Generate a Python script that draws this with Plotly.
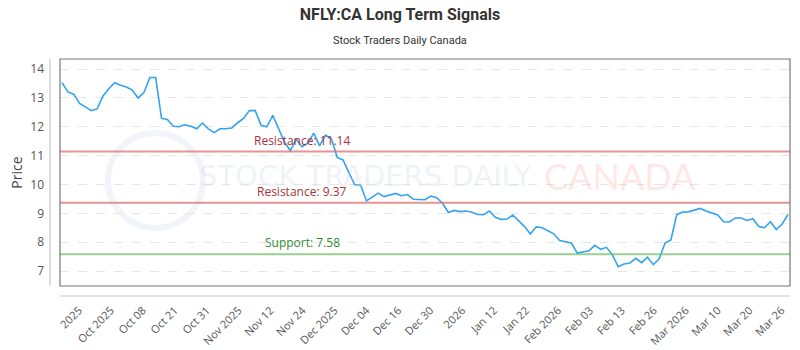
import plotly.graph_objects as go
import numpy as np

# ---- data ----
prices = [
    13.53, 13.21, 13.13, 12.81, 12.69, 12.56, 12.62, 13.07, 13.32, 13.53,
    13.44, 13.38, 13.27, 13.00, 13.19, 13.71, 13.71, 12.29, 12.25, 12.02,
    12.00, 12.07, 12.02, 11.93, 12.13, 11.93,
    11.80, 11.93, 11.93, 11.96, 12.14, 12.29, 12.56, 12.56, 12.05, 12.00,
    12.40, 11.91, 11.47, 11.17, 11.57, 11.31, 11.43, 11.78, 11.34, 11.71,
    11.59, 10.94, 10.85, 10.41, 9.99,
    9.98, 9.43, 9.56, 9.70, 9.58, 9.63, 9.69, 9.61, 9.65, 9.49,
    9.47, 9.47, 9.60, 9.54, 9.35, 9.03, 9.10, 9.06, 9.08, 9.04,
    8.96, 8.95, 9.08, 8.86, 8.79,
    8.80, 8.94, 8.75, 8.54, 8.28, 8.53, 8.50, 8.39, 8.29, 8.06,
    8.01, 7.97, 7.62, 7.66, 7.70, 7.89, 7.75, 7.82, 7.56, 7.15,
    7.24, 7.28, 7.44, 7.29, 7.48,
    7.22, 7.42, 7.97, 8.08, 8.96, 9.04, 9.05, 9.10, 9.17, 9.08,
    9.01, 8.94, 8.71, 8.70, 8.84, 8.84, 8.75, 8.81, 8.54, 8.50,
    8.71, 8.44, 8.63, 8.96,
]
tick_labels = [
    "2025", "Oct 2025", "Oct 08", "Oct 21", "Oct 31", "Nov 2025", "Nov 12",
    "Nov 24", "Dec 2025", "Dec 04", "Dec 16", "Dec 30", "2026", "Jan 12",
    "Jan 22", "Feb 2026", "Feb 03", "Feb 13", "Feb 26", "Mar 2026", "Mar 10",
    "Mar 20", "Mar 26",
]
level_names = ["Resistance", "Resistance", "Support"]
level_values = [11.14, 9.37, 7.58]
y_ticks = [7, 8, 9, 10, 11, 12, 13, 14]

x = list(range(len(prices)))
n = len(prices)
tickvals = list(np.linspace(2.9, n - 2.1, len(tick_labels)))

line_colors = ["rgba(226,110,110,0.75)", "rgba(226,110,110,0.75)", "rgba(120,190,110,0.75)"]
text_colors = ["#a8323a", "#a8323a", "#2f8a2f"]

PW, PH, PL, PT = 730, 227, 60, 59


def px(xp):
    return (xp - PL) / PW


def py(yp):
    return (PT + PH - yp) / PH


fig = go.Figure()

# watermark
fig.add_shape(type="circle", xref="paper", yref="paper",
              x0=px(108), x1=px(203), y0=py(228), y1=py(133),
              line=dict(color="rgba(205,214,230,0.28)", width=6), layer="below")
fig.add_annotation(xref="paper", yref="paper", x=px(365), y=py(176), xanchor="center",
                   yanchor="middle", text="STOCK TRADERS DAILY", showarrow=False,
                   font=dict(family="DejaVu Sans", size=29,
                             color="rgba(205,214,230,0.33)"))
fig.add_annotation(xref="paper", yref="paper", x=px(620), y=py(176), xanchor="center",
                   yanchor="middle", text="CANADA", showarrow=False,
                   font=dict(family="Lato", size=36, color="rgba(255,170,170,0.28)"))

fig.add_trace(go.Scatter(x=x, y=prices, mode="lines",
                         line=dict(color="#33a3f0", width=1.6),
                         hoverinfo="skip", showlegend=False))

for name, val, lc, tc in zip(level_names, level_values, line_colors, text_colors):
    fig.add_shape(type="line", xref="paper", yref="y", x0=0, x1=1, y0=val, y1=val,
                  line=dict(color=lc, width=2))
    fig.add_annotation(xref="paper", yref="y", x=px(302), y=val, xanchor="center",
                       yanchor="bottom", yshift=1, showarrow=False,
                       text=f"{name}: {val:.2f}",
                       font=dict(family="Open Sans", size=12, color=tc))

# frame and offset axis lines
fig.add_shape(type="rect", xref="paper", yref="paper", x0=0, x1=1, y0=0, y1=1,
              line=dict(color="#777777", width=1.2))
fig.add_shape(type="line", xref="paper", yref="paper", x0=px(50), x1=px(50), y0=0, y1=1,
              line=dict(color="#c8c8c8", width=1.2))
fig.add_shape(type="line", xref="paper", yref="paper", x0=0, x1=1, y0=py(296), y1=py(296),
              line=dict(color="#c8c8c8", width=1.2))

fig.add_annotation(xref="paper", yref="paper", x=px(400), y=py(40), xanchor="center",
                   yanchor="middle", text="Stock Traders Daily Canada", showarrow=False,
                   font=dict(family="Roboto", size=11, color="#333333"))

fig.update_layout(
    width=800, height=350,
    margin=dict(l=PL, r=800 - PL - PW, t=PT, b=350 - PT - PH),
    paper_bgcolor="white", plot_bgcolor="white",
    title=dict(text="<b>NFLY:CA Long Term Signals</b>", x=0.5, xanchor="center",
               y=1 - 14 / 350, yanchor="middle",
               font=dict(family="Roboto", size=16, color="#333333")),
    xaxis=dict(range=[-0.34, n - 1 + 0.34], tickmode="array", tickvals=tickvals,
               ticktext=tick_labels, tickangle=-45, showgrid=False, zeroline=False,
               showline=False, ticks="", ticklabelstandoff=15, automargin=False,
               tickfont=dict(family="Open Sans", size=11, color="#555555")),
    yaxis=dict(range=[6.48, 14.35], tickmode="array", tickvals=y_ticks,
               showgrid=True, gridcolor="#e6e6e6", griddash="dash", zeroline=False,
               showline=False, ticks="", ticklabelstandoff=15, automargin=False,
               tickfont=dict(family="Open Sans", size=12, color="#555555"),
               title=dict(text="Price", font=dict(family="Open Sans", size=14, color="#444444"),
                          standoff=4)),
)

fig.write_html("out.html")
